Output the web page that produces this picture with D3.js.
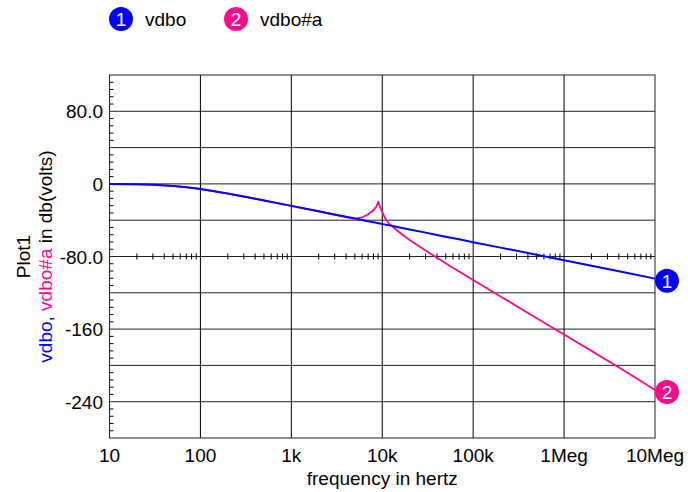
<!DOCTYPE html>
<html>
<head>
<meta charset="utf-8">
<script src="https://cdn.jsdelivr.net/npm/d3@7"></script>
<style>
  html, body { margin: 0; padding: 0; background: #fff; }
  svg { display: block; font-family: "Liberation Sans", Arial, sans-serif; }
</style>
</head>
<body>
<svg id="chart" width="688" height="492"></svg>
<script>
// Frequency sweep points (Hz)
const freqHz = [10, 20, 30, 50, 70, 100, 200, 300, 500, 1000, 2000, 3000, 4000, 5000,
  6000, 7000, 8000, 8600, 9060, 9500, 10000, 10500, 11000, 12000, 13000, 15000,
  20000, 30000, 40000, 55000, 70000, 100000, 200000, 500000, 1e6, 2e6, 5e6, 1e7];

// vdbo magnitude (dB)
const vdbo = [-0.1, -0.4, -0.9, -2.2, -3.6, -5.6, -10.6, -13.9, -18.2, -24.2, -30.2, -33.7,
  -36.2, -38.1, -39.7, -41.1, -42.2, -42.9, -43.3, -43.7, -44.2, -44.6, -45.0, -45.7,
  -46.4, -47.7, -50.2, -53.7, -56.2, -59.0, -61.1, -64.2, -70.2, -78.1, -84.2, -90.2,
  -98.1, -104.4];

// vdbo#a magnitude (dB)
const vdboA = [-0.1, -0.4, -0.9, -2.2, -3.6, -5.6, -10.6, -13.9, -18.2, -24.2, -30.2, -34.0,
  -36.6, -38.3, -37.0, -33.5, -29.0, -25.0, -19.6, -26.0, -31.0, -35.6, -39.5, -44.5,
  -47.0, -52.5, -61.8, -73.5, -81.5, -90.1, -96.5, -106.0, -124.0, -148.0, -166.0,
  -184.0, -208.0, -227.0];

// Axis ticks and labels
const xTickValues = [10, 100, 1e3, 1e4, 1e5, 1e6, 1e7];
const xTickLabels = ["10", "100", "1k", "10k", "100k", "1Meg", "10Meg"];
const yGridValues = [80, 40, 0, -40, -80, -120, -160, -200, -240];
const yTickValues = [80, 0, -80, -160, -240];
const yTickLabels = ["80.0", "0", "-80.0", "-160", "-240"];

const seriesNames = ["vdbo", "vdbo#a"];
const seriesColors = ["#0000ff", "#ff0a8a"];

const svg = d3.select("#chart");
const plot = { left: 109.5, right: 655, top: 75, bottom: 438 };

const x = d3.scaleLog().domain([10, 1e7]).range([plot.left, plot.right]);
const y = d3.scaleLinear().domain([120, -280]).range([plot.top, plot.bottom]);

const FS = 19;

// Grid: horizontal lines
svg.append("g").selectAll("line").data(yGridValues).join("line")
  .attr("x1", plot.left).attr("x2", plot.right)
  .attr("y1", d => y(d)).attr("y2", d => y(d))
  .attr("stroke", "#222").attr("stroke-width", 1);

// Grid: vertical lines at each decade
svg.append("g").selectAll("line").data(xTickValues.slice(1, -1)).join("line")
  .attr("x1", d => x(d)).attr("x2", d => x(d))
  .attr("y1", plot.top).attr("y2", plot.bottom)
  .attr("stroke", "#000").attr("stroke-width", 1);

// Minor log ticks along the -80 dB line
const minorX = [];
for (let dec = 10; dec < 1e7; dec *= 10) {
  for (let m = 2; m <= 9; m++) minorX.push(dec * m);
}
svg.append("g").selectAll("line").data(minorX).join("line")
  .attr("x1", d => x(d)).attr("x2", d => x(d))
  .attr("y1", y(-80) - 3).attr("y2", y(-80) + 3)
  .attr("stroke", "#000").attr("stroke-width", 1);

// Minor ticks on the left axis every 8 dB
const minorY = d3.range(112, -280, -8).filter(v => v % 40 !== 0);
svg.append("g").selectAll("line").data(minorY).join("line")
  .attr("x1", plot.left).attr("x2", plot.left + 4)
  .attr("y1", d => y(d)).attr("y2", d => y(d))
  .attr("stroke", "#000").attr("stroke-width", 1);

// Frame
svg.append("rect")
  .attr("x", plot.left).attr("y", plot.top)
  .attr("width", plot.right - plot.left).attr("height", plot.bottom - plot.top)
  .attr("fill", "none").attr("stroke", "#222").attr("stroke-width", 1);

// Curves
const line = d3.line().x(d => x(d[0])).y(d => y(d[1]));
const seriesData = [vdbo, vdboA].map(vals => freqHz.map((f, i) => [f, vals[i]]));

svg.append("path").datum(seriesData[1])
  .attr("d", line).attr("fill", "none")
  .attr("stroke", seriesColors[1]).attr("stroke-width", 1.8)
  .attr("stroke-linejoin", "round");
svg.append("path").datum(seriesData[0])
  .attr("d", line).attr("fill", "none")
  .attr("stroke", seriesColors[0]).attr("stroke-width", 2)
  .attr("stroke-linejoin", "round");

// X tick labels
svg.append("g").selectAll("text").data(xTickValues).join("text")
  .attr("x", d => x(d)).attr("y", 462)
  .attr("text-anchor", "middle").attr("font-size", FS).attr("fill", "#000")
  .text((d, i) => xTickLabels[i]);

svg.append("text")
  .attr("x", (plot.left + plot.right) / 2).attr("y", 485)
  .attr("text-anchor", "middle").attr("font-size", FS).attr("fill", "#000")
  .text("frequency in hertz");

// Y tick labels
svg.append("g").selectAll("text").data(yTickValues).join("text")
  .attr("x", 103).attr("y", d => y(d) + 7)
  .attr("text-anchor", "end").attr("font-size", FS).attr("fill", "#000")
  .text((d, i) => yTickLabels[i]);

// Y axis titles
const midY = (plot.top + plot.bottom) / 2;
svg.append("text")
  .attr("transform", `translate(30,${midY}) rotate(-90)`)
  .attr("text-anchor", "middle").attr("font-size", FS).attr("fill", "#000")
  .text("Plot1");
const yTitle = svg.append("text")
  .attr("transform", `translate(52,${midY}) rotate(-90)`)
  .attr("text-anchor", "middle").attr("font-size", FS);
yTitle.append("tspan").attr("fill", seriesColors[0]).text("vdbo, ");
yTitle.append("tspan").attr("fill", seriesColors[1]).text("vdbo#a");
yTitle.append("tspan").attr("fill", "#000").text(" in db(volts)");

// Numbered badge helper
function badge(cx, cy, color, label) {
  const g = svg.append("g");
  g.append("circle").attr("cx", cx).attr("cy", cy).attr("r", 12).attr("fill", color);
  g.append("text").attr("x", cx).attr("y", cy + 7)
    .attr("text-anchor", "middle").attr("font-size", FS).attr("fill", "#fff")
    .text(label);
}

// Legend
const legendX = [121, 236];
seriesNames.forEach((name, i) => {
  badge(legendX[i], 19, seriesColors[i], String(i + 1));
  svg.append("text")
    .attr("x", legendX[i] + 24).attr("y", 26)
    .attr("font-size", FS).attr("fill", "#000").text(name);
});

// End-of-trace markers
[vdbo, vdboA].forEach((vals, i) => {
  const last = vals.length - 1;
  badge(x(freqHz[last]) + 12, y(vals[last]) + 2, seriesColors[i], String(i + 1));
});
</script>
</body>
</html>
